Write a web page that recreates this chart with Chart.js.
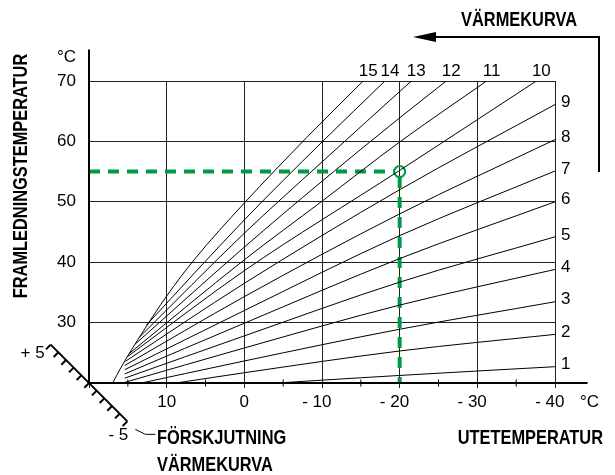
<!DOCTYPE html>
<html>
<head>
<meta charset="utf-8">
<script src="https://cdn.jsdelivr.net/npm/chart.js@4.4.1/dist/chart.umd.min.js"></script>
<style>
  html, body { margin: 0; padding: 0; background: #fff; }
</style>
</head>
<body>
<canvas id="curveChart" width="615" height="475"></canvas>
<script>
// axis values
const outdoorTicks = [10, 0, -10, -20, -30, -40];
const outdoorMinor = [15, 5, -5, -15, -25, -35];
const flowTicks = [30, 40, 50, 60, 70];

// heating curves 1..15, [outdoor °C, flow °C]
const curve1 = [[18.0, 17.6], [0, 19.6], [-20, 21.25], [-40, 22.7]];
const curve2 = [[15.4, 18.7], [0, 21.7], [-20, 25.3], [-40, 28.05]];
const curve3 = [[15.4, 19.4], [0, 23.65], [-20, 28.9], [-40, 33.45]];
const curve4 = [[15.4, 20.1], [0, 25.8], [-20, 32.9], [-40, 38.8]];
const curve5 = [[15.4, 20.8], [0, 27.8], [-20, 36.7], [-40, 44.2]];
const curve6 = [[15.4, 21.5], [0, 29.9], [-20, 40.6], [-40, 50.0]];
const curve7 = [[15.4, 22.2], [0, 32.0], [-20, 44.4], [-40, 55.1]];
const curve8 = [[15.4, 22.9], [0, 34.3], [-20, 48.0], [-40, 60.3]];
const curve9 = [[15.3, 23.6], [0, 36.5], [-20, 52.0], [-40, 66.1]];
const curve10 = [[15.0, 24.4], [0, 38.6], [-20, 55.2], [-37.6, 70]];
const curve11 = [[14.8, 24.9], [0, 40.4], [-10, 50.1], [-20, 59.9], [-31.2, 70]];
const curve12 = [[14.0, 26.5], [0, 42.5], [-10, 53.4], [-20, 63.9], [-26.0, 70]];
const curve13 = [[13.5, 27.6], [0, 44.8], [-10, 56.6], [-21.5, 70]];
const curve14 = [[12.6, 29.6], [0, 47.0], [-10, 59.9], [-18.1, 70]];
const curve15 = [[17.85, 17.7], [16, 22.3], [13, 28.6], [10, 34.4], [6.4, 40.5], [0, 49.8], [-8, 60.6], [-15.3, 70]];
const curves = [curve1, curve2, curve3, curve4, curve5, curve6, curve7, curve8,
                curve9, curve10, curve11, curve12, curve13, curve14, curve15];

// curve shift scale (Förskjutning värmekurva), -5..+5
const shiftSteps = [-5, -4, -3, -2, -1, 0, 1, 2, 3, 4, 5];

// example reading
const exampleOutdoor = -20;
const exampleFlow = 55;

const GREEN = "#009a44";
const FONT = '"Liberation Sans", Arial, sans-serif';

function pts(arr) {
    return arr.map(p => ({ x: p[0], y: p[1] }));
}

// shift scale: one step in data units along the diagonal through (20, 20)
const STEP_X = 0.987, STEP_Y = 1.27;
const shiftAt = s => ({ x: 20 + s * STEP_X, y: 20 + s * STEP_Y });

const shiftTicks = [];
shiftSteps.forEach(s => {
    const p = shiftAt(s);
    shiftTicks.push(p, { x: p.x + 0.6, y: p.y - 0.78 }, { x: null, y: null });
});

const datasets = [];

curves.forEach((c, i) => {
    datasets.push({
        label: "Kurva " + (i + 1),
        data: pts(c),
        borderColor: "#000",
        borderWidth: 1,
        pointRadius: 0,
        cubicInterpolationMode: "monotone"
    });
});

// axis lines (extend past the grid)
datasets.push({
    data: [{ x: 20, y: 20 }, { x: 20, y: 75.2 }],
    borderColor: "#000", borderWidth: 2, pointRadius: 0, clip: false
});
datasets.push({
    data: [{ x: 20, y: 20 }, { x: -44.2, y: 20 }],
    borderColor: "#000", borderWidth: 2, pointRadius: 0, clip: false
});

// minor ticks on outdoor axis
datasets.push({
    data: outdoorMinor.map(v => ({ x: v, y: 20 })),
    showLine: false,
    pointStyle: "line",
    pointRotation: 90,
    pointRadius: 3.5,
    borderColor: "#000",
    borderWidth: 1,
    clip: false
});

// shift scale
datasets.push({
    data: [shiftAt(-5), shiftAt(5)],
    borderColor: "#000", borderWidth: 2, pointRadius: 0, clip: false
});
datasets.push({
    data: shiftTicks,
    borderColor: "#000", borderWidth: 2, pointRadius: 0, spanGaps: false, clip: false
});

// example reading, green dashed
datasets.push({
    data: [{ x: 20, y: exampleFlow }, { x: exampleOutdoor + 0.7, y: exampleFlow }],
    borderColor: GREEN, borderWidth: 4, borderDash: [11, 8], pointRadius: 0
});
datasets.push({
    data: [{ x: exampleOutdoor, y: exampleFlow - 0.9 }, { x: exampleOutdoor, y: 20 }],
    borderColor: GREEN, borderWidth: 4, borderDash: [11, 9], pointRadius: 0
});
datasets.push({
    data: [{ x: exampleOutdoor, y: exampleFlow }],
    showLine: false,
    pointRadius: 5.5,
    pointBorderWidth: 2,
    pointBorderColor: GREEN,
    pointBackgroundColor: "rgba(0,0,0,0)"
});

function boldText(ctx, text, x, y, align) {
    ctx.save();
    ctx.font = "bold 21px " + FONT;
    ctx.textBaseline = "middle";
    ctx.translate(x, y);
    ctx.scale(0.78, 1);
    ctx.textAlign = align || "left";
    ctx.fillText(text, 0, 0);
    ctx.restore();
}

const labelsPlugin = {
    id: "labels",
    afterDraw(chart) {
        const ctx = chart.ctx;
        const xs = chart.scales.x, ys = chart.scales.y;
        const area = chart.chartArea;
        ctx.save();
        ctx.fillStyle = "#000";
        ctx.strokeStyle = "#000";
        ctx.font = "17px " + FONT;
        ctx.textBaseline = "middle";

        // flow axis labels
        ctx.textAlign = "right";
        flowTicks.forEach(v => ctx.fillText(String(v), area.left - 13, ys.getPixelForValue(v)));
        ctx.fillText("°C", area.left - 13, ys.getPixelForValue(74));

        // outdoor axis labels: digits centred on the grid line
        const ly = area.bottom + 19;
        outdoorTicks.forEach(v => {
            const digits = String(Math.abs(v));
            const w = ctx.measureText(digits).width;
            const txt = v < 0 ? "- " + digits : digits;
            ctx.textAlign = "right";
            ctx.fillText(txt, xs.getPixelForValue(v) + w / 2, ly);
        });
        ctx.textAlign = "left";
        ctx.fillText("°C", area.right + 25, ly);

        // curve numbers
        curves.forEach((c, i) => {
            const end = c[c.length - 1];
            const px = xs.getPixelForValue(end[0]);
            const py = ys.getPixelForValue(end[1]);
            if (end[1] >= 70) {
                ctx.textAlign = "center";
                ctx.fillText(String(i + 1), px + 5, area.top - 10);
            } else {
                ctx.textAlign = "left";
                ctx.fillText(String(i + 1), area.right + 6, py - 2);
            }
        });

        // shift scale labels
        const top = shiftAt(5), bot = shiftAt(-5);
        ctx.textAlign = "right";
        ctx.fillText("+ 5", xs.getPixelForValue(top.x) - 6, ys.getPixelForValue(top.y) + 9);
        ctx.fillText("- 5", xs.getPixelForValue(bot.x) + 1, ys.getPixelForValue(bot.y) + 14);

        // leader line to "Förskjutning"
        ctx.lineWidth = 1;
        ctx.beginPath();
        const bx = xs.getPixelForValue(bot.x), by = ys.getPixelForValue(bot.y);
        ctx.moveTo(bx + 8, by + 8);
        ctx.lineTo(bx + 18, by + 13);
        ctx.lineTo(bx + 28, by + 13);
        ctx.stroke();

        // titles
        boldText(ctx, "FÖRSKJUTNING", 157, 438);
        boldText(ctx, "VÄRMEKURVA", 157, 465);
        boldText(ctx, "UTETEMPERATUR", 603, 438, "right");
        boldText(ctx, "VÄRMEKURVA", 577, 20, "right");

        ctx.save();
        ctx.translate(21, 176);
        ctx.rotate(-Math.PI / 2);
        boldText(ctx, "FRAMLEDNINGSTEMPERATUR", 0, 0, "center");
        ctx.restore();

        // arrow "Värmekurva"
        ctx.lineWidth = 2;
        ctx.beginPath();
        ctx.moveTo(599, 172);
        ctx.lineTo(599, 37);
        ctx.lineTo(430, 37);
        ctx.stroke();
        ctx.beginPath();
        ctx.moveTo(413, 37);
        ctx.lineTo(436, 32);
        ctx.lineTo(436, 42);
        ctx.closePath();
        ctx.fill();
        ctx.restore();
    }
};

new Chart(document.getElementById("curveChart").getContext("2d"), {
    type: "line",
    data: { datasets: datasets },
    options: {
        responsive: false,
        devicePixelRatio: 1,
        animation: false,
        layout: { padding: { top: 81, right: 60, left: 0, bottom: 0 } },
        plugins: {
            legend: { display: false },
            tooltip: { enabled: false }
        },
        scales: {
            x: {
                type: "linear",
                reverse: true,
                min: -40,
                max: 20,
                ticks: { display: false, stepSize: 10 },
                grid: { color: "#222", lineWidth: 1, drawTicks: true, tickLength: 5 },
                border: { display: false },
                afterFit: s => { s.height = 92; }
            },
            y: {
                type: "linear",
                min: 20,
                max: 70,
                ticks: { display: false, stepSize: 10 },
                grid: { color: "#222", lineWidth: 1, drawTicks: false },
                border: { display: false },
                afterFit: s => { s.width = 89; }
            }
        }
    },
    plugins: [labelsPlugin]
});
</script>
</body>
</html>
